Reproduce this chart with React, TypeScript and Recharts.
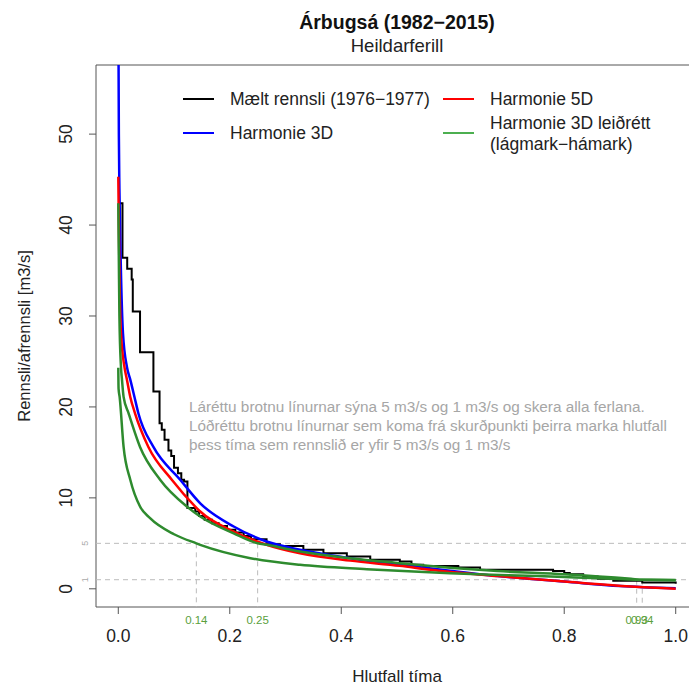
import React from 'react';
import { LineChart, Line, XAxis, YAxis, ReferenceLine, ReferenceArea } from 'recharts';

// measured flow (step curve)
const measuredX = [0.002, 0.0075, 0.016, 0.024, 0.026, 0.039, 0.063, 0.074, 0.078, 0.083, 0.09, 0.095, 0.1, 0.107, 0.113, 0.118, 0.124, 0.138, 0.145, 0.155, 0.168, 0.18, 0.195, 0.21, 0.225, 0.238, 0.266, 0.29, 0.332, 0.368, 0.41, 0.452, 0.505, 0.526, 0.547, 0.61, 0.649, 0.78, 0.8, 0.81, 0.834, 0.86, 0.888, 0.94, 1.0];
const measuredQ = [42.4, 36.4, 35.2, 34.0, 30.5, 26.0, 21.7, 18.2, 17.5, 16.4, 15.2, 14.6, 13.3, 12.7, 12.0, 11.8, 8.9, 8.5, 8.0, 7.6, 7.2, 6.9, 6.5, 6.2, 5.8, 5.45, 4.9, 4.7, 4.3, 3.9, 3.55, 3.2, 3.0, 2.64, 2.5, 2.34, 2.09, 1.95, 1.75, 1.6, 1.35, 1.1, 0.88, 0.7, 0.55];

const h3dX = [0, 0.001, 0.002, 0.004, 0.0084, 0.0155, 0.0215, 0.029, 0.036, 0.063, 0.111, 0.147, 0.207, 0.266, 0.326, 0.416, 0.505, 0.595, 0.68, 0.8, 0.9, 1.0];
const h3dQ = [65, 50, 44, 37, 28.1, 24.4, 23, 21.1, 19.3, 15.6, 12.0, 9.4, 6.85, 5.2, 4.29, 3.37, 2.64, 2.0, 1.4, 0.8, 0.3, 0.05];

const h5dX = [0, 0.001, 0.0025, 0.0048, 0.011, 0.0155, 0.0215, 0.03, 0.054, 0.096, 0.138, 0.147, 0.207, 0.266, 0.326, 0.416, 0.505, 0.56, 0.68, 0.8, 0.92, 1.0];
const h5dQ = [45.3, 40, 33, 28.1, 24.4, 23, 21.1, 19.3, 15.6, 12.0, 9.05, 8.5, 6.3, 4.84, 3.9, 3.1, 2.53, 2.1, 1.4, 0.8, 0.25, 0.0];

const maxX = [0, 0.001, 0.002, 0.0048, 0.0066, 0.0095, 0.0185, 0.039, 0.075, 0.123, 0.147, 0.207, 0.25, 0.266, 0.326, 0.416, 0.505, 0.56, 0.6, 0.68, 0.8, 0.92, 0.94, 1.0];
const maxQ = [42.4, 36, 30, 24.4, 23, 21.1, 19.3, 15.6, 12.0, 9.05, 7.95, 6.1, 5.0, 4.84, 4.1, 3.37, 2.82, 2.5, 2.3, 1.95, 1.6, 1.1, 1.0, 0.98];

const minX = [0, 0.0005, 0.0024, 0.0095, 0.0215, 0.039, 0.057, 0.1, 0.14, 0.147, 0.237, 0.326, 0.446, 0.595, 0.7, 0.8, 0.93, 1.0];
const minQ = [24.3, 22, 21.1, 15.6, 12.0, 9.05, 7.77, 6.0, 5.0, 4.84, 3.37, 2.64, 2.16, 1.72, 1.5, 1.3, 1.0, 0.95];

const xTicks = [0, 0.2, 0.4, 0.6, 0.8, 1.0];
const yTicks = [0, 10, 20, 30, 40, 50];
const thresholds = [5, 1];
const crossings5 = [0.14, 0.25];
const crossings1 = [0.93, 0.94];

const zip = (xs: number[], ys: number[]) => xs.map((x, i) => ({ x, y: ys[i] }));

const FONT = '"Liberation Sans", Arial, sans-serif';
const GREEN = '#2e8b2e';

const XTick = ({ x, payload }: any) => (
  <text x={x} y={636} textAnchor="middle" dominantBaseline="central" fontSize={17.5} fill="#222" fontFamily={FONT}>
    {payload.value.toFixed(1)}
  </text>
);

const YTick = ({ y, payload }: any) => (
  <text x={66} y={y} transform={`rotate(-90, 66, ${y})`} textAnchor="middle" dominantBaseline="central" fontSize={17.5} fill="#222" fontFamily={FONT}>
    {payload.value}
  </text>
);

const SmallY = ({ viewBox, text }: any) => (
  <text x={85} y={viewBox.y} transform={`rotate(-90, 85, ${viewBox.y})`} textAnchor="middle" dominantBaseline="central" fontSize={9} fill="#aaa" fontFamily={FONT}>
    {text}
  </text>
);

const GreenX = ({ viewBox, text }: any) => (
  <text x={viewBox.x} y={620} textAnchor="middle" dominantBaseline="central" fontSize={11.5} fill="#5aa03c" fontFamily={FONT}>
    {text}
  </text>
);

const legendRows = [
  { label: ['Mælt rennsli (1976−1977)'], color: '#000', x: 183, y: 99 },
  { label: ['Harmonie 3D'], color: '#0000ff', x: 183, y: 133 },
  { label: ['Harmonie 5D'], color: '#ff0000', x: 443, y: 99 },
  { label: ['Harmonie 3D leiðrétt', '(lágmark−hámark)'], color: '#4caf50', x: 443, y: 133 },
];

const note = [
  'Láréttu brotnu línurnar sýna 5 m3/s og 1 m3/s og skera alla ferlana.',
  'Lóðréttu brotnu línurnar sem koma frá skurðpunkti þeirra marka hlutfall',
  'þess tíma sem rennslið er yfir 5 m3/s og 1 m3/s',
];

export default function App() {
  return (
    <div style={{ position: 'absolute', left: 0, top: 0, width: 689, height: 685, overflow: 'hidden', background: '#fff' }}>
      <LineChart width={698} height={685} margin={{ top: 65, right: 0, bottom: 0, left: 0 }}>
        <XAxis type="number" dataKey="x" domain={[-0.04, 1.04]} ticks={xTicks} allowDataOverflow
          height={78} axisLine={false} tickSize={7} tickLine={{ stroke: '#555' }} tick={<XTick />} />
        <YAxis type="number" domain={[-2, 57.6]} ticks={yTicks} allowDataOverflow
          width={96} axisLine={false} tickSize={7} tickLine={{ stroke: '#555' }} tick={<YTick />} />
        <ReferenceArea x1={-0.04} x2={1.04} y1={-2} y2={57.6} fill="none" stroke="#555" strokeWidth={1} />
        {thresholds.map((t) => (
          <ReferenceLine key={t} y={t} stroke="#bbb" strokeDasharray="5 4" label={<SmallY text={String(t)} />} />
        ))}
        {crossings5.map((c) => (
          <ReferenceLine key={'a' + c} segment={[{ x: c, y: 5 }, { x: c, y: -2 }]} stroke="#bbb" strokeDasharray="5 4" label={<GreenX text={String(c)} />} />
        ))}
        {crossings1.map((c) => (
          <ReferenceLine key={'b' + c} segment={[{ x: c, y: 1 }, { x: c, y: -2 }]} stroke="#bbb" strokeDasharray="5 4" label={<GreenX text={String(c)} />} />
        ))}
        <Line data={zip(measuredX, measuredQ)} dataKey="y" type="stepAfter" stroke="#000" strokeWidth={2} dot={false} isAnimationActive={false} />
        <Line data={zip(h3dX, h3dQ)} dataKey="y" type="monotone" stroke="#0000ff" strokeWidth={2.5} dot={false} isAnimationActive={false} />
        <Line data={zip(h5dX, h5dQ)} dataKey="y" type="monotone" stroke="#ff0000" strokeWidth={2.5} dot={false} isAnimationActive={false} />
        <Line data={zip(maxX, maxQ)} dataKey="y" type="monotone" stroke={GREEN} strokeWidth={2.5} dot={false} isAnimationActive={false} />
        <Line data={zip(minX, minQ)} dataKey="y" type="monotone" stroke={GREEN} strokeWidth={2.5} dot={false} isAnimationActive={false} />
      </LineChart>
      <svg width={689} height={685} style={{ position: 'absolute', left: 0, top: 0, pointerEvents: 'none' }} fontFamily={FONT}>
        <text x={397} y={22} textAnchor="middle" dominantBaseline="central" fontSize={19.5} fontWeight="bold" fill="#111">Árbugsá (1982−2015)</text>
        <text x={397} y={45} textAnchor="middle" dominantBaseline="central" fontSize={18.5} fill="#222">Heildarferill</text>
        <text x={397} y={676} textAnchor="middle" dominantBaseline="central" fontSize={17} fill="#222">Hlutfall tíma</text>
        <text x={24} y={336} transform="rotate(-90, 24, 336)" textAnchor="middle" dominantBaseline="central" fontSize={16.5} fill="#222">Rennsli/afrennsli [m3/s]</text>
        {legendRows.map((r) => (
          <g key={r.label[0]}>
            <line x1={r.x} x2={r.x + 31} y1={r.y} y2={r.y} stroke={r.color} strokeWidth={2} />
            {r.label.map((l, i) => (
              <text key={l} x={r.x + 47} y={r.y + (r.label.length === 2 ? (i === 0 ? -10.5 : 10.5) : 0)} dominantBaseline="central" fontSize={17.5} fill="#222">{l}</text>
            ))}
          </g>
        ))}
        {note.map((l, i) => (
          <text key={l} x={189} y={406 + i * 19} dominantBaseline="central" fontSize={15.3} fill="#a6a6a6">{l}</text>
        ))}
      </svg>
    </div>
  );
}
